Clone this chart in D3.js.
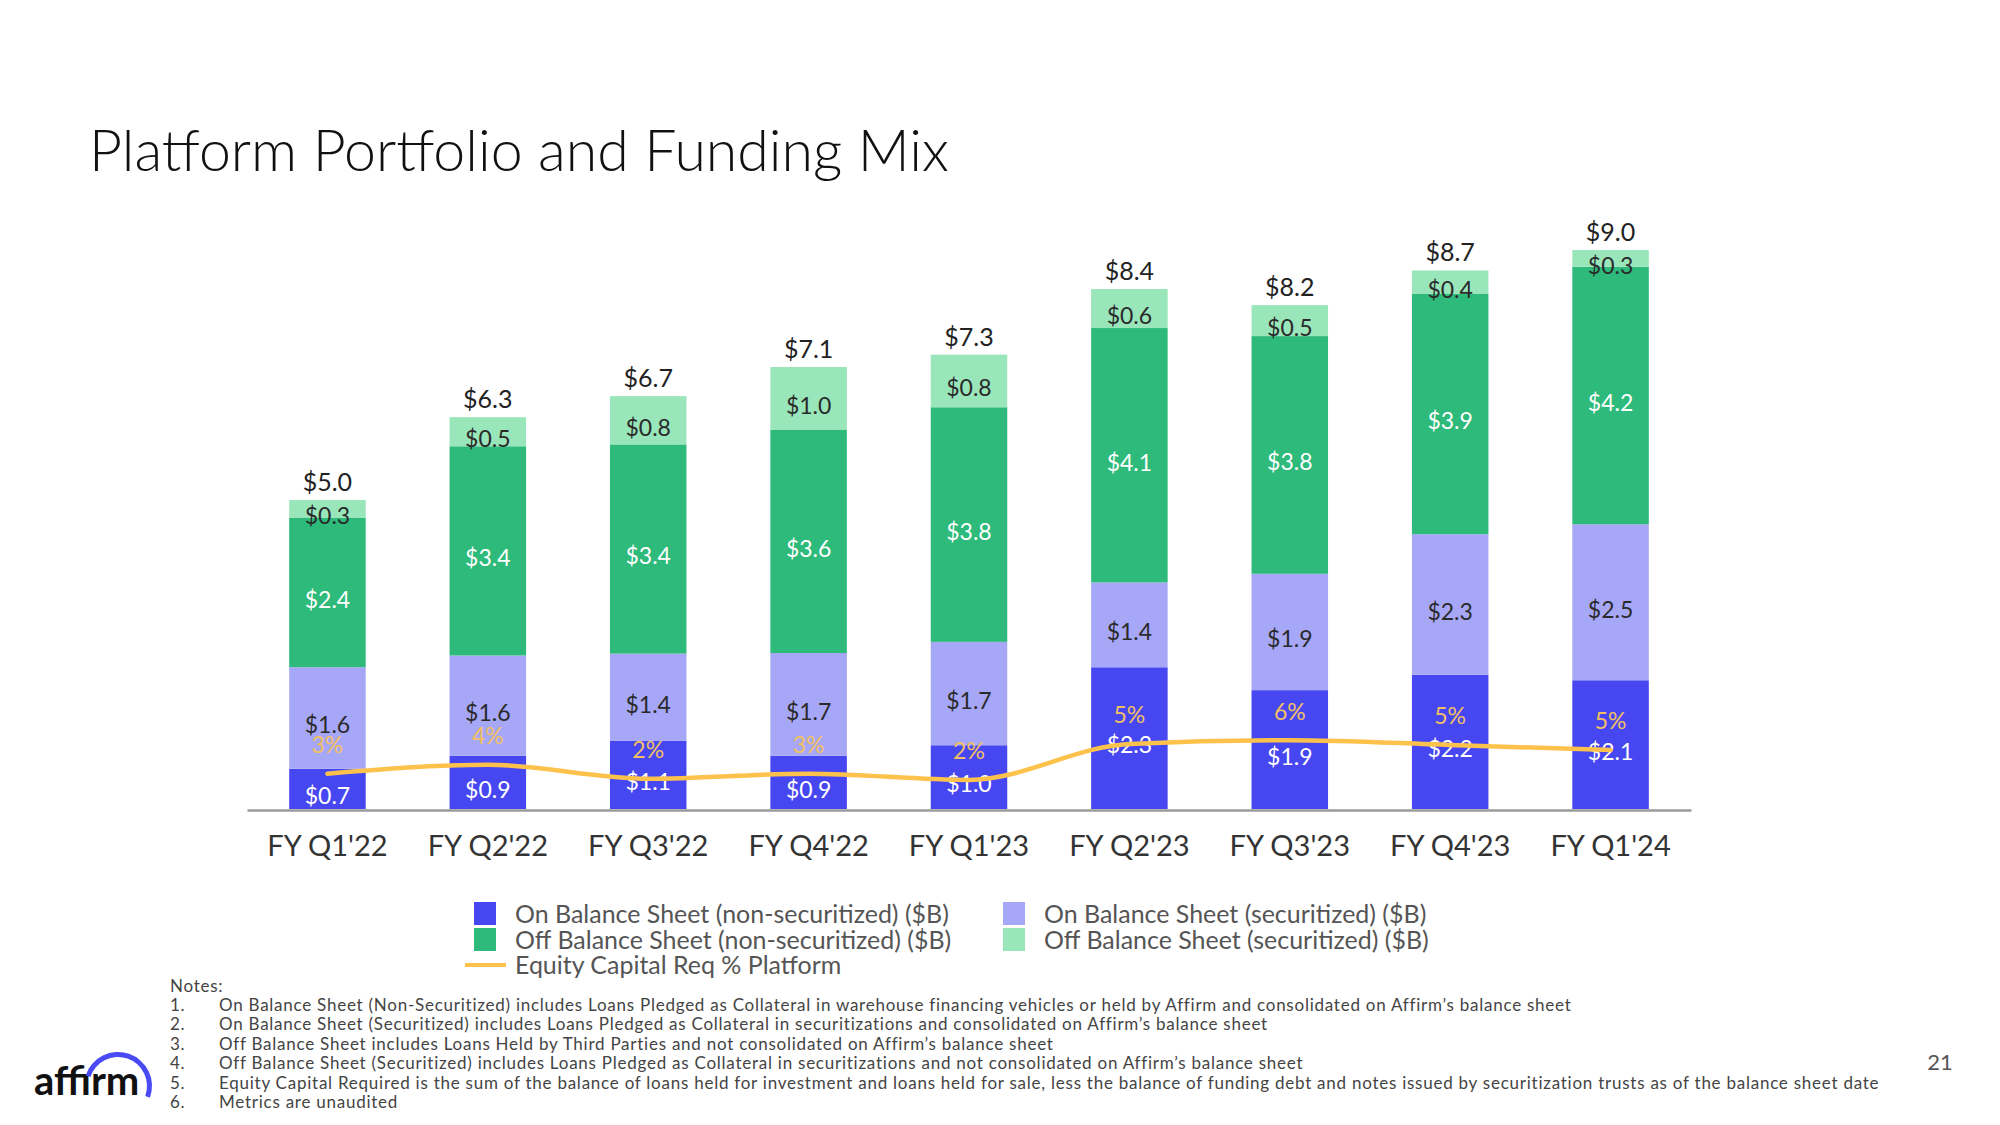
<!DOCTYPE html>
<html>
<head>
<meta charset="utf-8">
<script src="https://cdn.jsdelivr.net/npm/d3@7"></script>
<style>
  html, body { margin: 0; padding: 0; background: #fff; }
  svg { display: block; font-family: Lato, "Open Sans", sans-serif; }
</style>
</head>
<body>
<svg id="chart" width="2000" height="1125"></svg>
<script>
// ---------------- data ----------------
const categories = ["FY Q1'22","FY Q2'22","FY Q3'22","FY Q4'22","FY Q1'23","FY Q2'23","FY Q3'23","FY Q4'23","FY Q1'24"];
const onBalanceNonSec  = [0.651, 0.86, 1.10, 0.86, 1.03, 2.29, 1.92, 2.17, 2.08];
const onBalanceSec     = [1.64, 1.62, 1.41, 1.66, 1.67, 1.37, 1.88, 2.27, 2.52];
const offBalanceNonSec = [2.41, 3.38, 3.38, 3.61, 3.79, 4.11, 3.84, 3.88, 4.16];
const offBalanceSec    = [0.29, 0.47, 0.78, 1.01, 0.85, 0.63, 0.50, 0.38, 0.27];
const totals           = [5.0, 6.3, 6.7, 7.1, 7.3, 8.4, 8.2, 8.7, 9.0];
const equityPct        = [3.07, 3.85, 2.63, 3.07, 2.53, 5.66, 5.98, 5.57, 5.12];
const equityLabels     = ["3%","4%","2%","3%","2%","5%","6%","5%","5%"];

const seriesNames = [
  "On Balance Sheet (non-securitized) ($B)",
  "On Balance Sheet (securitized) ($B)",
  "Off Balance Sheet (non-securitized) ($B)",
  "Off Balance Sheet (securitized) ($B)"
];
const lineName = "Equity Capital Req % Platform";
const title = "Platform Portfolio and Funding Mix";
const notes = [
  "On Balance Sheet (Non-Securitized) includes Loans Pledged as Collateral in warehouse financing vehicles or held by Affirm and consolidated on Affirm\u2019s balance sheet",
  "On Balance Sheet (Securitized) includes Loans Pledged as Collateral in securitizations and consolidated on Affirm\u2019s balance sheet",
  "Off Balance Sheet includes Loans Held by Third Parties and not consolidated on Affirm\u2019s balance sheet",
  "Off Balance Sheet (Securitized) includes Loans Pledged as Collateral in securitizations and not consolidated on Affirm\u2019s balance sheet",
  "Equity Capital Required is the sum of the balance of loans held for investment and loans held for sale, less the balance of funding debt and notes issued by securitization trusts as of the balance sheet date",
  "Metrics are unaudited"
];
const pageNumber = "21";

// ---------------- styles ----------------
const colors = ["#4747F2", "#A7A7F7", "#2DBA7A", "#98E6BA"];
const labelColors = ["#ffffff", "#2a2a2a", "#ffffff", "#2a2a2a"];
const lineColor = "#FDC24C";
const pctColor = "#F2C064";

const svg = d3.select("#chart");

function fitWidth(sel, target) {
  const w = sel.node().getComputedTextLength();
  const fs = parseFloat(sel.attr("font-size"));
  const nf = fs * target / w;
  sel.attr("font-size", nf.toFixed(2));
  return nf;
}

// title
const t = svg.append("text").attr("x", 89).attr("y", 171)
  .attr("font-size", 48).attr("font-weight", 300).attr("fill", "#111").text(title);
fitWidth(t, 860);

// ---------------- scales ----------------
const x = d3.scaleBand().domain(categories).range([247, 1691])
  .paddingInner(0.523).paddingOuter(0.263);
const y = d3.scaleLinear().domain([0, 9.5]).range([809, 809 - 9.5 * 61.9]);
const y2 = d3.scaleLinear().domain([0, 6]).range([809, 740]);

const rows = categories.map((c, i) => ({
  cat: c,
  s0: onBalanceNonSec[i], s1: onBalanceSec[i], s2: offBalanceNonSec[i], s3: offBalanceSec[i]
}));
const stacked = d3.stack().keys(["s0","s1","s2","s3"])(rows);
const fmt = d3.format(".1f");

const g = svg.append("g");
stacked.forEach((layer, li) => {
  g.append("g").selectAll("rect").data(layer).join("rect")
    .attr("x", d => x(d.data.cat))
    .attr("width", x.bandwidth())
    .attr("y", d => y(d[1]))
    .attr("height", d => y(d[0]) - y(d[1]))
    .attr("fill", colors[li]);
});
stacked.forEach((layer, li) => {
  g.append("g").selectAll("text").data(layer).join("text")
    .attr("x", d => x(d.data.cat) + x.bandwidth() / 2)
    .attr("y", d => (y(d[0]) + y(d[1])) / 2 + 7)
    .attr("dy", "0.36em")
    .attr("text-anchor", "middle")
    .attr("font-size", 23)
    .attr("fill", labelColors[li])
    .text(d => "$" + fmt(d[1] - d[0]));
});

// totals
g.append("g").selectAll("text").data(rows).join("text")
  .attr("x", d => x(d.cat) + x.bandwidth() / 2)
  .attr("y", d => y(d.s0 + d.s1 + d.s2 + d.s3) - 9)
  .attr("text-anchor", "middle")
  .attr("font-size", 25)
  .attr("fill", "#222")
  .text((d, i) => "$" + fmt(totals[i]));

// axis
const axis = svg.append("g").attr("transform", "translate(0,810)")
  .call(d3.axisBottom(x).tickSize(0).tickPadding(25));
axis.select(".domain").attr("stroke", "#9a9a9a").attr("stroke-width", 2.5);
axis.selectAll("text").attr("font-size", 29).attr("fill", "#333")
  .attr("font-family", "Lato, 'Open Sans', sans-serif");

// equity line
const line = d3.line()
  .x((d, i) => x(categories[i]) + x.bandwidth() / 2)
  .y(d => y2(d))
  .curve(d3.curveMonotoneX);
svg.append("path").datum(equityPct)
  .attr("d", line).attr("fill", "none")
  .attr("stroke", lineColor).attr("stroke-width", 4.5)
  .attr("stroke-linecap", "round");
svg.append("g").selectAll("text").data(equityPct).join("text")
  .attr("x", (d, i) => x(categories[i]) + x.bandwidth() / 2)
  .attr("y", d => y2(d) - 29)
  .attr("dy", "0.36em")
  .attr("text-anchor", "middle")
  .attr("font-size", 23)
  .attr("fill", pctColor)
  .text((d, i) => equityLabels[i]);

// ---------------- legend ----------------
const legend = svg.append("g");
const legendItems = [
  {col: 0, row: 0, s: 0}, {col: 0, row: 1, s: 2},
  {col: 1, row: 0, s: 1}, {col: 1, row: 1, s: 3}
];
const colX = [474, 1003];
const rowY = [914, 940, 965];
let legendFont = 23;
legendItems.forEach(it => {
  legend.append("rect")
    .attr("x", colX[it.col]).attr("y", rowY[it.row] - 12)
    .attr("width", 22).attr("height", 23)
    .attr("fill", colors[it.s]);
  const tt = legend.append("text")
    .attr("x", colX[it.col] + 41).attr("y", rowY[it.row])
    .attr("dy", "0.36em").attr("font-size", 23).attr("fill", "#555")
    .text(seriesNames[it.s]);
  if (it.s === 0) legendFont = fitWidth(tt, 434);
});
legend.selectAll("text").attr("font-size", legendFont.toFixed(2));
legend.append("line").attr("x1", 465).attr("x2", 506)
  .attr("y1", rowY[2]).attr("y2", rowY[2])
  .attr("stroke", lineColor).attr("stroke-width", 4);
legend.append("text").attr("x", 515).attr("y", rowY[2])
  .attr("dy", "0.36em").attr("font-size", legendFont.toFixed(2)).attr("fill", "#555").text(lineName);

// ---------------- notes ----------------
const notesG = svg.append("g").attr("font-size", 17).attr("fill", "#444");
const noteTexts = [];
notesG.append("text").attr("x", 170).attr("y", 992).text("Notes:");
notes.forEach((n, i) => {
  const yy = 1011 + i * 19.4;
  notesG.append("text").attr("x", 170).attr("y", yy).text((i + 1) + ".");
  noteTexts.push(notesG.append("text").attr("x", 219).attr("y", yy).text(n));
});
// widen letter spacing so the longest note spans the same width as the reference
const ref = noteTexts[4];
const extra = (1661 - ref.node().getComputedTextLength()) / notes[4].length;
notesG.selectAll("text").attr("letter-spacing", extra.toFixed(3));

// page number
svg.append("text").attr("x", 1940).attr("y", 1070).attr("text-anchor", "middle")
  .attr("font-size", 22).attr("fill", "#555").text(pageNumber);

// logo
const logo = svg.append("g");
logo.append("text").attr("x", 34).attr("y", 1095).attr("font-size", 40)
  .attr("font-weight", 700).attr("fill", "#111").text("affirm");
logo.append("path")
  .attr("transform", "translate(118,1086)")
  .attr("d", d3.arc()({innerRadius: 29, outerRadius: 34, startAngle: -72 * Math.PI / 180, endAngle: 110 * Math.PI / 180}))
  .attr("fill", "#4A4AF4");
</script>
</body>
</html>
